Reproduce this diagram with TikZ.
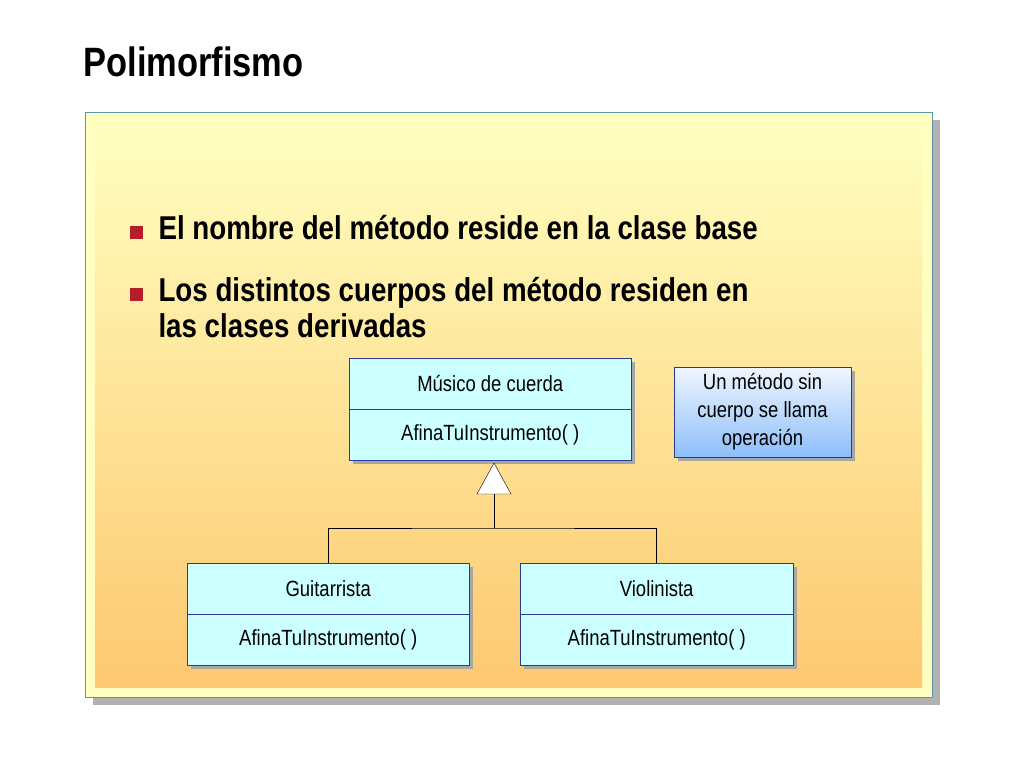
\documentclass[tikz,border=0pt]{standalone}
\usepackage{fontspec}
\setmainfont{Liberation Sans}
\newfontfamily\narrowfont[FakeStretch=0.84]{Liberation Sans}
\usetikzlibrary{positioning}
\definecolor{panelTop}{RGB}{255,255,192}
\definecolor{panelBot}{RGB}{253,200,112}
\definecolor{classFill}{RGB}{204,255,255}
\definecolor{classLine}{RGB}{40,60,150}
\definecolor{noteTop}{RGB}{240,246,255}
\definecolor{noteBot}{RGB}{140,190,250}
\definecolor{frameLine}{RGB}{90,150,170}
\definecolor{bulletCol}{RGB}{180,30,40}
\begin{document}
\begin{tikzpicture}[x=1pt,y=-1pt,
		classbox/.style={draw=classLine,fill=classFill,minimum width=282pt,minimum height=51pt,inner sep=0pt,font=\narrowfont\fontsize{22}{26}\selectfont},
		bullettext/.style={anchor=north west,align=left,font=\narrowfont\bfseries\fontsize{33}{36}\selectfont}
		]
	\useasboundingbox (0,0) rectangle (1024,768);
	\fill[white] (0,0) rectangle (1024,768);
	
	% Titel
	\node[anchor=west,font=\narrowfont\bfseries\fontsize{41}{46}\selectfont] (title) at (80,62) {Polimorfismo};
	
	% Rahmen
	\fill[gray!60] (93,120) rectangle (940,705);
	\draw[frameLine,fill=panelTop] (85,112) rectangle (932,697);
	\shade[top color=panelTop,bottom color=panelBot] (95,122) rectangle (922,687);
	
	% Aufzaehlung
	\fill[bulletCol] (130,226) rectangle (143,239);
	\fill[bulletCol] (130,288) rectangle (143,301);
	\node[bullettext] (b1) at (155,212) {El nombre del método reside en la clase base};
	\node[bullettext] (b2) at (155,274) {Los distintos cuerpos del método residen en\\las clases derivadas};
	
	% Klassen
	\fill[gray!70] (353,362) rectangle (635,464);
	\fill[gray!70] (191,567) rectangle (473,669);
	\fill[gray!70] (524,567) rectangle (797,669);
	\node[classbox,anchor=north west] (baseName) at (349,358) {Músico de cuerda};
	\node[classbox,anchor=north] (baseOp) at (baseName.south) {AfinaTuInstrumento( )};
	\node[classbox,anchor=north west] (guitName) at (187,563) {Guitarrista};
	\node[classbox,anchor=north] (guitOp) at (guitName.south) {AfinaTuInstrumento( )};
	\node[classbox,minimum width=273pt,anchor=north west] (violName) at (520,563) {Violinista};
	\node[classbox,minimum width=273pt,anchor=north] (violOp) at (violName.south) {AfinaTuInstrumento( )};
	
	% Notiz
	\fill[gray!70] (678,371) rectangle (855,461);
	\shade[top color=noteTop,bottom color=noteBot,draw=classLine] (674,367) rectangle (851,457);
	\node[align=center,font=\narrowfont\fontsize{22}{28}\selectfont] (note) at (762.5,412) {Un método sin\\cuerpo se llama\\operación};
	
	% Vererbung
	\coordinate (apex) at (494,463);
	\coordinate (join) at (494,528);
	\draw[fill=white] (apex) -- (511,494) -- (477,494) -- cycle;
	\draw (494,494) -- (join);
	\draw (guitName.north -| 328,0) |- (join) -| (violName.north -| 656,0);
	
	\end{tikzpicture}
\end{document}
